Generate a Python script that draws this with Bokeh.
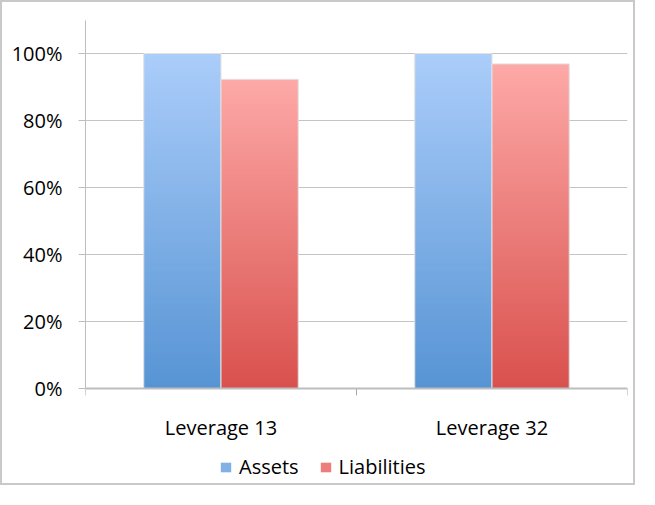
import numpy as np
from bokeh.plotting import figure
from bokeh.models import (Range1d, FixedTicker, Legend, LegendItem, Span,
                          ColumnDataSource)
from bokeh.core.properties import value
from bokeh.embed import file_html
from bokeh.resources import INLINE

# ---- data ----
categories = ["Leverage 13", "Leverage 32"]
series = ["Assets", "Liabilities"]
assets = [1.00, 1.00]
liabilities = [0.923, 0.969]
y_ticks = [0.0, 0.2, 0.4, 0.6, 0.8, 1.0]
y_tick_labels = ["0%", "20%", "40%", "60%", "80%", "100%"]

# ---- styles / layout ----
FONT = "Open Sans"
blue_top, blue_bot = (171, 205, 250), (87, 148, 212)
red_top, red_bot = (253, 169, 168), (217, 81, 77)
BAR_W = 0.285
N_SLICES = 90
PX = 335.0                 # pixels per 100%
Y_TOP = 368 / PX           # frame top above 0
Y_BOT = -99 / PX           # frame extends below the baseline for labels/legend
TICK = 7 / PX
LABEL_Y = -39 / PX

p = figure(width=635, height=485, output_backend="svg", toolbar_location=None,
           x_range=Range1d(0, len(categories)), y_range=Range1d(Y_BOT, Y_TOP),
           x_axis_location=None,
           min_border_left=83, min_border_right=10, min_border_top=18,
           min_border_bottom=0)
p.styles = {"border": "2px solid #c9c9c9"}
p.outline_line_color = None
p.background_fill_color = "white"
p.border_fill_color = "white"
p.xgrid.visible = False
p.ygrid.ticker = FixedTicker(ticks=y_ticks)
p.ygrid.grid_line_color = "#c4c4c4"
p.ygrid.grid_line_width = 1


def hexc(rgb):
    return "#%02x%02x%02x" % tuple(int(round(c)) for c in rgb)


def gradient_bar(centers, values, top_c, bot_c):
    lefts, rights, bottoms, tops, colors = [], [], [], [], []
    for c, v in zip(centers, values):
        edges = np.linspace(0, v, N_SLICES + 1)
        for k in range(N_SLICES):
            t = (k + 0.5) / N_SLICES
            col = [bot_c[j] + (top_c[j] - bot_c[j]) * t for j in range(3)]
            lefts.append(c - BAR_W / 2)
            rights.append(c + BAR_W / 2)
            bottoms.append(edges[k])
            tops.append(edges[k + 1] + (v / N_SLICES) * 0.3 if k < N_SLICES - 1 else edges[k + 1])
            colors.append(hexc(col))
    src = ColumnDataSource(dict(left=lefts, right=rights, bottom=bottoms, top=tops, color=colors))
    p.quad(left="left", right="right", bottom="bottom", top="top", fill_color="color",
           line_color=None, source=src)
    p.quad(left=[c - BAR_W / 2 for c in centers], right=[c + BAR_W / 2 for c in centers],
           bottom=[0] * len(values), top=values, fill_color=None,
           line_color="#e2e2e2", line_width=1)


idx = np.arange(len(categories)) + 0.5
gradient_bar(idx - BAR_W / 2, assets, blue_top, blue_bot)
gradient_bar(idx + BAR_W / 2, liabilities, red_top, red_bot)

# ---- y axis ----
ya = p.yaxis[0]
ya.ticker = FixedTicker(ticks=y_ticks)
ya.bounds = (0, Y_TOP)
ya.major_label_overrides = {t: l for t, l in zip(y_ticks, y_tick_labels)}
ya.major_tick_out = 7
ya.major_tick_in = 0
ya.minor_tick_line_color = None
ya.axis_line_color = "#bdbdbd"
ya.major_tick_line_color = "#bdbdbd"
ya.major_label_standoff = 16
ya.major_label_text_font = FONT
ya.major_label_text_font_size = "20px"
ya.major_label_text_color = "#000000"

# ---- category axis: baseline, boundary ticks, labels ----
p.add_layout(Span(location=0, dimension="width", line_color="#bdbdbd", line_width=2))
bounds = list(range(len(categories) + 1))
p.segment(x0=bounds, x1=bounds, y0=[0] * len(bounds), y1=[-TICK] * len(bounds),
          line_color="#a8a8a8", line_width=1)
p.text(x=list(idx), y=[LABEL_Y] * len(categories), text=categories,
       text_font=value(FONT), text_font_size="20px", text_color="#000000",
       text_align="center", text_baseline="middle")

# ---- legend (zero-area proxy glyphs carry the swatch colours) ----
leg_b = p.quad(left=[0], right=[0], bottom=[0], top=[0], fill_color=hexc(
    [(a + b) / 2 for a, b in zip(blue_top, blue_bot)]), line_color=None)
leg_r = p.quad(left=[0], right=[0], bottom=[0], top=[0], fill_color=hexc(
    [(a + b) / 2 for a, b in zip(red_top, red_bot)]), line_color=None)
legend = Legend(items=[LegendItem(label=series[0], renderers=[leg_b]),
                       LegendItem(label=series[1], renderers=[leg_r])],
                orientation="horizontal", location=(134, 7),
                glyph_width=13, glyph_height=12, label_standoff=7, spacing=20,
                padding=0, margin=0, border_line_color=None,
                background_fill_alpha=0,
                label_text_font=FONT, label_text_font_size="20px",
                label_text_color="#000000")
p.add_layout(legend, "center")

open("out.html", "w").write(file_html(p, INLINE))
